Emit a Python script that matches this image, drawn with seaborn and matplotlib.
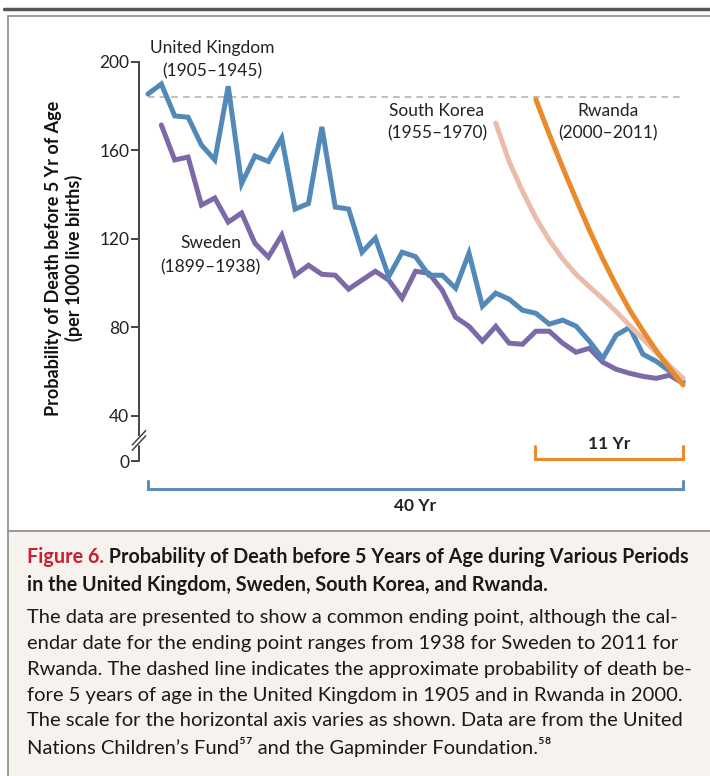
import matplotlib
matplotlib.use("Agg")
import matplotlib.pyplot as plt
import numpy as np
import pandas as pd
import seaborn as sns
from matplotlib.lines import Line2D
from matplotlib.patches import Rectangle

# under-5 mortality, per 1000 live births, aligned on a common end point
uk_values = [185.5, 190, 175.6, 175, 162.4, 155.7, 189, 145, 157.5, 155,
             165.6, 133.5, 136, 170.6, 134.4, 133.5, 114, 120.4, 103, 114,
             112, 103.6, 103.6, 97.7, 113.6, 89.6, 95.5, 92.8, 87.8, 86.4,
             81.5, 83.3, 80.6, 73.8, 66, 76.5, 80, 67.9, 64.7, 60.2, 55.7]
sweden_values = [171.5, 155.7, 157, 135.3, 138.5, 127.6, 131.7, 118, 111.8, 121.7,
                 103.6, 108.1, 104, 103.6, 97.3, 101.4, 105.4, 101.4, 93.2, 105.4,
                 104.5, 96.8, 84.6, 80.5, 73.8, 80.5, 72.9, 72.4, 78.3, 78.3,
                 72.9, 68.8, 70.6, 64.3, 61.1, 59.3, 57.9, 57, 58.4, 54.8]
korea_values = [172.4, 155, 141.5, 129.5, 119.5, 111, 104, 98.4, 93, 87.2,
                81, 74.8, 68.7, 62.6, 57]
rwanda_values = [183, 167.3, 152.3, 138, 124, 111, 99, 88, 78.5, 69.5,
                 61.5, 54]
reference_level = 184.2

countries = ["Sweden", "United Kingdom", "South Korea", "Rwanda"]
colors = {"United Kingdom": "#5289b9", "Sweden": "#7c69a8",
          "South Korea": "#e9bda9", "Rwanda": "#e98b2a"}

y_ticks = [200, 160, 120, 80, 40]
zero_pos = 19.5  # where the "0" label sits below the axis break


def years_to_end(values):
    n = len(values)
    return np.arange(-(n - 1), 1)


frames = []
for name, vals in [("United Kingdom", uk_values), ("Sweden", sweden_values),
                   ("South Korea", korea_values), ("Rwanda", rwanda_values)]:
    frames.append(pd.DataFrame({"years": years_to_end(vals), "u5mr": vals, "country": name}))
df = pd.concat(frames, ignore_index=True)

sns.set_theme(style="white")
plt.rcParams["font.family"] = ["Lato", "DejaVu Sans"]

W, H = 710, 776
fig = plt.figure(figsize=(W / 100, H / 100), dpi=100)


def fx(x):
    return x / W


def fy(y):
    return 1 - y / H


# frame and caption panel
fig.add_artist(Rectangle((fx(8), 0), 1 - fx(8), fy(531), transform=fig.transFigure,
                         facecolor="#f6f3ee", edgecolor="none", zorder=0))
fig.add_artist(Line2D([fx(4), 1], [fy(9), fy(9)], transform=fig.transFigure, color="#555555", lw=2.5))
fig.add_artist(Line2D([fx(8), 1], [fy(16), fy(16)], transform=fig.transFigure, color="#8a8a8a", lw=1.2))
fig.add_artist(Line2D([fx(8), 1], [fy(531), fy(531)], transform=fig.transFigure, color="#8a8a8a", lw=1.2))
fig.add_artist(Line2D([fx(8), fx(8)], [fy(16), 0], transform=fig.transFigure, color="#8a8a8a", lw=1.2))

ax = fig.add_axes([fx(139), fy(510), fx(700) - fx(139), (510 - 40) / H])
ax.set_facecolor("none")
ax.set_xlim(-40.67, 1.27)
ax.set_ylim(-2.5, 209.9)

ax.plot([-40, 0], [reference_level, reference_level], color="#b5b5b5", lw=1.2,
        ls=(0, (4, 3)), zorder=1)

sns.lineplot(data=df, x="years", y="u5mr", hue="country", hue_order=countries,
             palette=colors, sort=False, estimator=None, linewidth=3.6,
             legend=False, ax=ax, zorder=3)
for line in ax.get_lines():
    line.set_solid_joinstyle("miter")

# axes styling with broken y axis
for side in ["top", "right", "bottom"]:
    ax.spines[side].set_visible(False)
ax.spines["left"].set_bounds(31.5, 200)
ax.spines["left"].set_color("#444444")
ax.spines["left"].set_linewidth(1.4)
ax.set_xticks([])
ax.set_yticks(y_ticks + [zero_pos])
ax.set_yticklabels([str(t) for t in y_ticks] + ["0"])
ax.tick_params(axis="y", direction="out", length=6, width=1.4, color="#444444",
               labelsize=12.5, pad=1, left=True, labelcolor="#222222")
ytr = ax.get_yaxis_transform()
ax.plot([0, 0], [zero_pos, 26.5], transform=ytr, color="#444444", lw=1.4, clip_on=False)
for dy in (0, 2.4):
    ax.plot([-0.012, 0.012], [24.5 + dy, 31 + dy], transform=ytr, color="#444444",
            lw=1.1, clip_on=False)
ax.set_ylabel("")
ax.set_xlabel("")

# series labels
label_kw = dict(ha="center", va="center", fontsize=12.5, color="#222222")
ax.text(-35.2, 206.3, "United Kingdom", **label_kw)
ax.text(-35.2, 195.5, "(1905\u20131945)", **label_kw)
ax.text(-35.3, 118.2, "Sweden", **label_kw)
ax.text(-35.3, 107.3, "(1899\u20131938)", **label_kw)
ax.text(-18.4, 177.9, "South Korea", **label_kw)
ax.text(-18.4, 167.5, "(1955\u20131970)", **label_kw)
ax.text(-5.6, 177.9, "Rwanda", **label_kw)
ax.text(-5.6, 167.5, "(2000\u20132011)", **label_kw)

# period brackets
ax.plot([-40, -40, 0, 0], [10.5, 7.0, 7.0, 10.5], color="#5a8cc0", lw=2.2,
        clip_on=False, solid_joinstyle="miter")
ax.text(-20, -0.5, "40 Yr", ha="center", va="center", fontsize=12.5, fontweight="bold",
        color="#222222")
ax.plot([-11.07, -11.07, 0, 0], [26.5, 20.5, 20.5, 26.5], color="#e98b2a", lw=2.2,
        clip_on=False, solid_joinstyle="miter")
ax.text(-5.5, 27.5, "11 Yr", ha="center", va="center", fontsize=12.5, fontweight="bold",
        color="#222222")

fig.text(fx(64), fy(258), "Probability of Death before 5 Yr of Age\n(per 1000 live births)",
         rotation=90, ha="center", va="center", fontsize=13, fontweight="bold",
         color="#111111", linespacing=1.25)

# caption
cap_size = 14.2
cap = fig.text(fx(27), fy(557), "Figure 6.", ha="left", va="center", fontsize=cap_size,
               fontweight="bold", color="#c8202f")
ax.annotate(" Probability of Death before 5 Years of Age during Various Periods",
            xy=(1, 0.5), xycoords=cap, ha="left", va="center", fontsize=cap_size,
            fontweight="bold", color="#1a1a1a", annotation_clip=False)
fig.text(fx(27), fy(585), "in the United Kingdom, Sweden, South Korea, and Rwanda.",
         ha="left", va="center", fontsize=cap_size, fontweight="bold", color="#1a1a1a")
body = [
    "The data are presented to show a common ending point, although the cal-",
    "endar date for the ending point ranges from 1938 for Sweden to 2011 for",
    "Rwanda. The dashed line indicates the approximate probability of death be-",
    "fore 5 years of age in the United Kingdom in 1905 and in Rwanda in 2000.",
    "The scale for the horizontal axis varies as shown. Data are from the United",
    "Nations Children\u2019s Fund\u2075\u2077 and the Gapminder Foundation.\u2075\u2078",
]
for i, line in enumerate(body):
    fig.text(fx(27), fy(617 + 26 * i), line, ha="left", va="center", fontsize=14.5,
             color="#1a1a1a")

fig.savefig("out.png", dpi=100)
